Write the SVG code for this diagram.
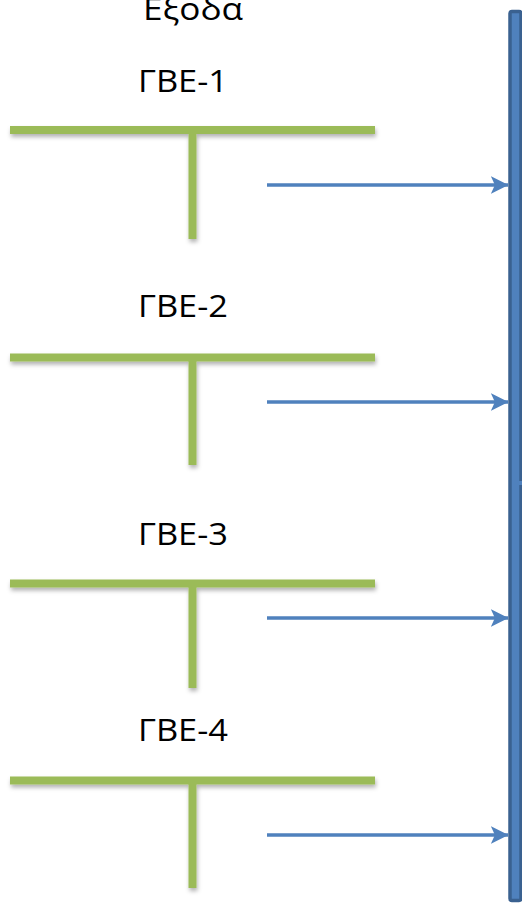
<svg xmlns="http://www.w3.org/2000/svg" width="522" height="906" viewBox="0 0 522 906">
<style>
.lbl{font-family:"Open Sans","Liberation Sans",sans-serif;font-size:31px;fill:#000;}
.bar{stroke:#9BBB59;stroke-width:8;fill:none;}
.arr{stroke:#4F81BD;stroke-width:3.5;fill:none;marker-end:url(#ah);}
</style>
<defs>
<filter id="sh" x="-10%" y="-50%" width="120%" height="200%">
<feDropShadow dx="1" dy="3" stdDeviation="2" flood-color="#000" flood-opacity="0.3"/>
</filter>
<marker id="ah" markerWidth="5" markerHeight="5" refX="4.3" refY="2.2" orient="auto" markerUnits="strokeWidth" viewBox="0 0 4.4 4.4">
<path d="M0,0 L4.4,2.2 L0,4.4 L1,2.2 Z" fill="#4F81BD"/>
</marker>
</defs>
<rect id="bus" x="510" y="11.5" width="11" height="889" rx="2" fill="#4F81BD" stroke="#3A6190" stroke-width="3.5"/>
<rect x="517" y="481" width="5" height="4" fill="#4F81BD"/>
<text id="title" class="lbl" x="193" y="20" text-anchor="middle" textLength="100" lengthAdjust="spacingAndGlyphs">Εξοδα</text>
<g id="gve1">
<text class="lbl" x="183" y="92" text-anchor="middle" textLength="90" lengthAdjust="spacingAndGlyphs">ΓΒΕ-1</text>
<g filter="url(#sh)"><path class="bar" d="M10,130 H375 M192.5,134 V239"/></g>
</g>
<g id="gve2">
<text class="lbl" x="183" y="317" text-anchor="middle" textLength="90" lengthAdjust="spacingAndGlyphs">ΓΒΕ-2</text>
<g filter="url(#sh)"><path class="bar" d="M10,357.5 H375 M192.5,361 V465"/></g>
</g>
<g id="gve3">
<text class="lbl" x="183" y="545" text-anchor="middle" textLength="90" lengthAdjust="spacingAndGlyphs">ΓΒΕ-3</text>
<g filter="url(#sh)"><path class="bar" d="M10,583.5 H375 M192.5,587 V688"/></g>
</g>
<g id="gve4">
<text class="lbl" x="183" y="741" text-anchor="middle" textLength="90" lengthAdjust="spacingAndGlyphs">ΓΒΕ-4</text>
<g filter="url(#sh)"><path class="bar" d="M10,780.5 H375 M192.5,784 V888"/></g>
</g>
<g id="connectors">
<line class="arr" x1="267" y1="185" x2="508" y2="185"/>
<line class="arr" x1="267" y1="402" x2="508" y2="402"/>
<line class="arr" x1="267" y1="618" x2="508" y2="618"/>
<line class="arr" x1="267" y1="835" x2="508" y2="835"/>
</g>
</svg>
